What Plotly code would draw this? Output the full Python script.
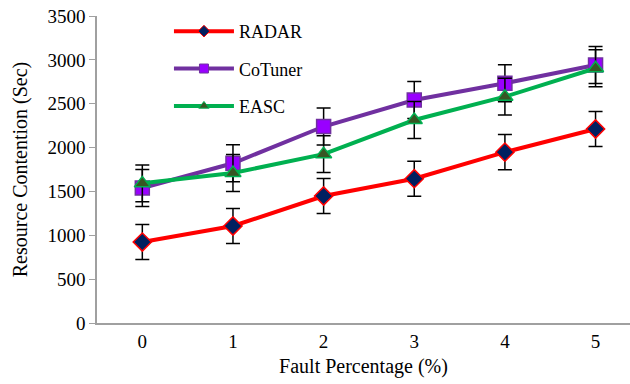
import plotly.graph_objects as go

x_vals = [0, 1, 2, 3, 4, 5]
radar = [923, 1106, 1448, 1645, 1948, 2212]
cotuner = [1539, 1821, 2240, 2542, 2733, 2941]
easc = [1592, 1710, 1925, 2314, 2580, 2904]
radar_err = [200, 200, 200, 200, 200, 200]
cotuner_err = [210, 210, 210, 210, 210, 210]
easc_err = [210, 210, 210, 210, 210, 210]
y_ticks = [0, 500, 1000, 1500, 2000, 2500, 3000, 3500]

font = "Liberation Serif"

def err(v):
    return dict(type="data", array=v, visible=True, color="#000000", thickness=1.5, width=7)

styles = [
    ("RADAR", radar, radar_err, "#FF0000", "diamond", "#002060", "#FF0000"),
    ("CoTuner", cotuner, cotuner_err, "#7030A0", "square", "#9900FF", "#7030A0"),
    ("EASC", easc, easc_err, "#00B050", "triangle-up", "#375623", "#00B050"),
]

fig = go.Figure()
for i, (name, ys, es, lc, sym, mc, ml) in enumerate(styles):
    fig.add_trace(go.Scatter(x=x_vals, y=ys, name=name, mode="lines+markers",
        line=dict(color=lc, width=4),
        marker=dict(symbol=sym, size=14, color=mc, line=dict(color=ml, width=1.5)),
        error_y=err(es), showlegend=False, cliponaxis=False))
for i, (name, ys, es, lc, sym, mc, ml) in enumerate(styles):
    fig.add_trace(go.Scatter(x=[None], y=[None], name=name, mode="lines+markers",
        line=dict(color=lc, width=4),
        marker=dict(symbol=sym, size=9, color=mc, line=dict(color=ml, width=1)),
        legendgroup=str(i), showlegend=True))

fig.update_layout(
    width=630, height=384,
    margin=dict(l=97, r=0, t=16, b=61),
    plot_bgcolor="white", paper_bgcolor="white",
    font=dict(family=font, size=19, color="#000000"),
    showlegend=True,
    legend=dict(x=0.135, y=1.01, xanchor="left", yanchor="top", bgcolor="rgba(0,0,0,0)",
                font=dict(family=font, size=18, color="#000000"), itemwidth=60, tracegroupgap=11),
    xaxis=dict(range=[-0.5, 5.38], tickvals=x_vals, ticktext=[str(v) for v in x_vals],
               showgrid=False, zeroline=False, showline=True, linecolor="#A0A0A0", linewidth=1.5,
               ticks="", tickfont=dict(family=font, size=19, color="#000000"),
               title=dict(text="Fault Percentage (%)", font=dict(family=font, size=20, color="#000000"), standoff=8)),
    yaxis=dict(range=[0, 3500], tickvals=y_ticks, showgrid=False, zeroline=False,
               showline=True, linecolor="#A0A0A0", linewidth=1.5, ticks="outside", ticklen=6,
               tickcolor="#A0A0A0", tickfont=dict(family=font, size=19, color="#000000"),
               title=dict(text="Resource Contention (Sec)", font=dict(family=font, size=20, color="#000000"), standoff=14)),
)

fig.write_html("out.html")
